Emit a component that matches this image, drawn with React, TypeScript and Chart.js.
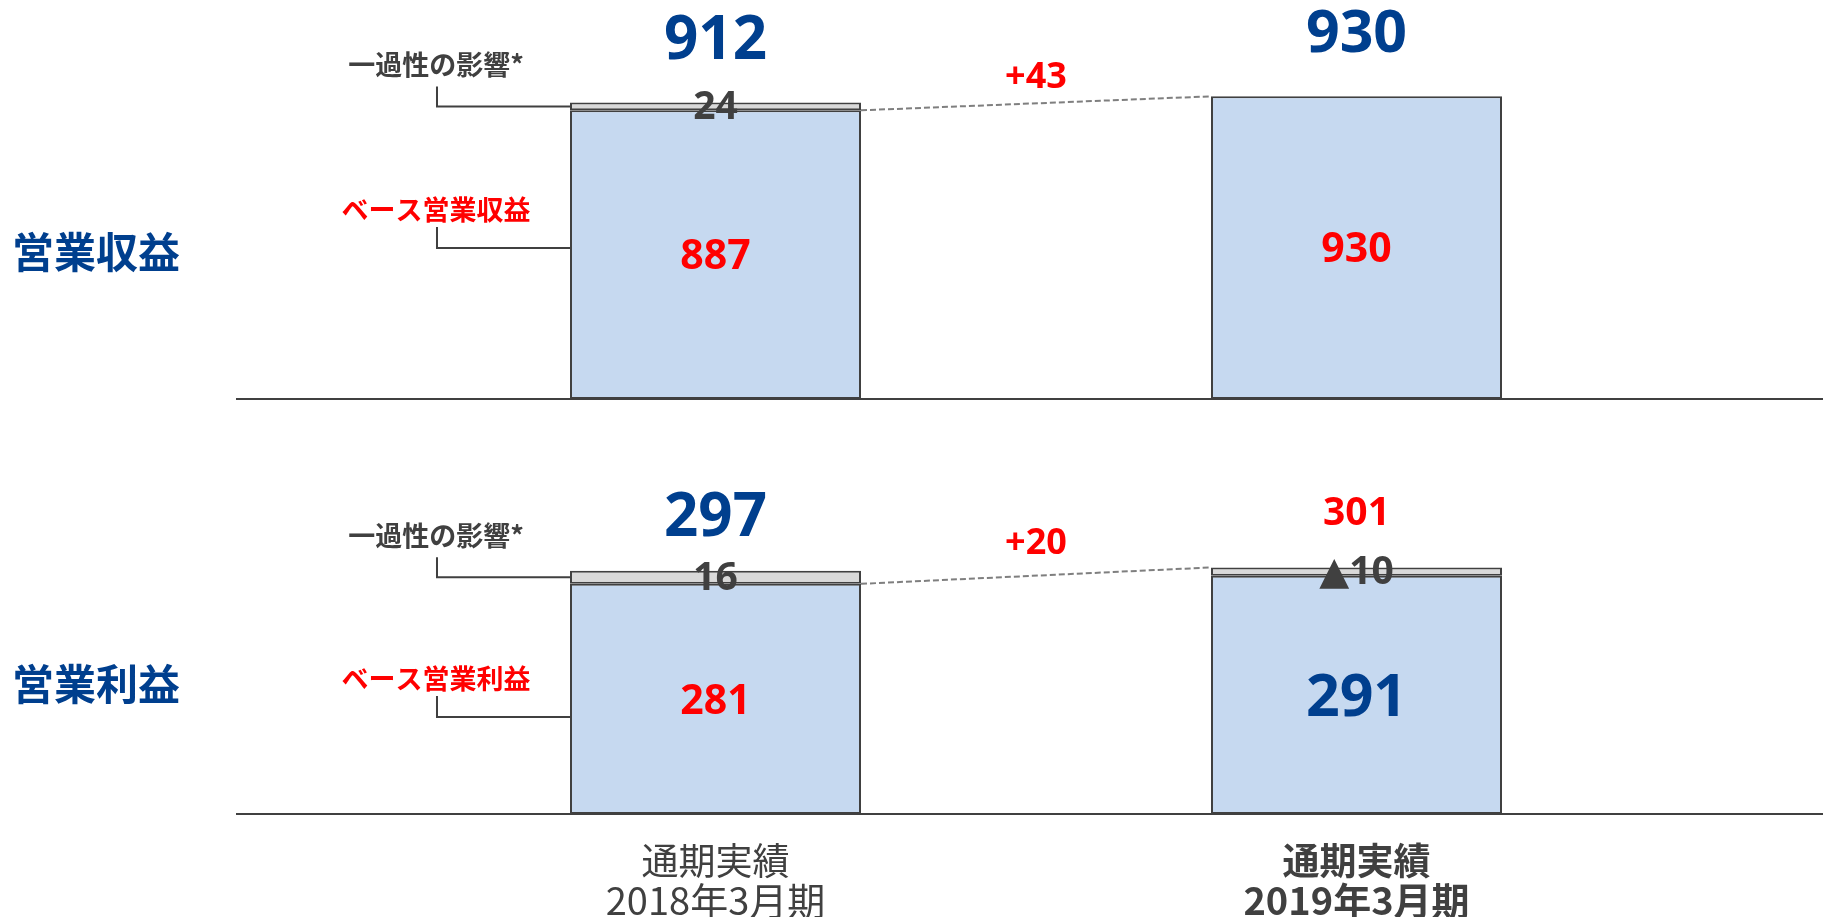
import React, { useEffect, useRef } from "react";
import { Chart, registerables } from "chart.js";

Chart.register(...registerables);

// ---- data ----
const periods = ["2018年3月期", "2019年3月期"];
const periodPrefix = "通期実績";

const revenueBase = [887, 930];
const revenueOneTime: (number | null)[] = [24, null];
const revenueTotalLabels = ["912", "930"];
const revenueBaseLabels = ["887", "930"];
const revenueOneTimeLabels = ["24", ""];
const revenueDelta = "+43";

const profitBase = [281, 291];
const profitOneTime: (number | null)[] = [16, 10];
const profitTotalLabels = ["297", "301"];
const profitBaseLabels = ["281", "291"];
const profitOneTimeLabels = ["16", "▲10"];
const profitDelta = "+20";

// ---- styles ----
const BLUE = "#003F8E";
const RED = "#FF0000";
const DARK = "#404040";
const NUM_FONT = "'Open Sans', 'DejaVu Sans', sans-serif";
const JP_FONT = "'Noto Sans CJK JP', sans-serif";

type Panel = {
  title: string;
  baseName: string;
  oneTimeName: string;
  base: number[];
  oneTime: (number | null)[];
  totalLabels: string[];
  baseLabels: string[];
  oneTimeLabels: string[];
  delta: string;
  yMax: number;
  height: number;
  bottomPad: number;
  totalOffset: number;
  deltaOffset: number;
  baseConnFrac: number;
  titleOffset: number;
  totalStyle: { color: string; size: number }[];
  baseStyle: { color: string; size: number }[];
  showCategories: boolean;
};

const panels: Panel[] = [
  {
    title: "営業収益",
    baseName: "ベース営業収益",
    oneTimeName: "一過性の影響*",
    base: revenueBase,
    oneTime: revenueOneTime,
    totalLabels: revenueTotalLabels,
    baseLabels: revenueBaseLabels,
    oneTimeLabels: revenueOneTimeLabels,
    delta: revenueDelta,
    yMax: 1226,
    height: 420,
    bottomPad: 21,
    totalOffset: 65,
    deltaOffset: 28,
    baseConnFrac: 0.477,
    titleOffset: 147,
    totalStyle: [
      { color: BLUE, size: 60 },
      { color: BLUE, size: 59 },
    ],
    baseStyle: [
      { color: RED, size: 41 },
      { color: RED, size: 41 },
    ],
    showCategories: false,
  },
  {
    title: "営業利益",
    baseName: "ベース営業利益",
    oneTimeName: "一過性の影響*",
    base: profitBase,
    oneTime: profitOneTime,
    totalLabels: profitTotalLabels,
    baseLabels: profitBaseLabels,
    oneTimeLabels: profitOneTimeLabels,
    delta: profitDelta,
    yMax: 481,
    height: 497,
    bottomPad: 103,
    totalOffset: 56,
    deltaOffset: 34,
    baseConnFrac: 0.579,
    titleOffset: 130,
    totalStyle: [
      { color: BLUE, size: 60 },
      { color: RED, size: 39 },
    ],
    baseStyle: [
      { color: RED, size: 41 },
      { color: BLUE, size: 59 },
    ],
    showCategories: true,
  },
];

function drawText(
  ctx: CanvasRenderingContext2D,
  s: string,
  x: number,
  cy: number,
  size: number,
  color: string,
  opts: { bold?: boolean; jp?: boolean; align?: CanvasTextAlign } = {}
) {
  const bold = opts.bold !== false;
  const family = opts.jp ? JP_FONT : NUM_FONT;
  ctx.save();
  ctx.font = `${bold ? "bold " : ""}${size}px ${family}`;
  ctx.fillStyle = color;
  ctx.textAlign = opts.align || "center";
  ctx.textBaseline = "alphabetic";
  const shift = opts.jp ? 0.38 * size : 0.357 * size;
  ctx.fillText(s, x, cy + shift);
  ctx.restore();
}

function makePlugin(p: Panel) {
  return {
    id: "annot",
    beforeDatasetsDraw(chart: any) {
      const ctx: CanvasRenderingContext2D = chart.ctx;
      const y0 = chart.scales.y.getPixelForValue(0);
      ctx.save();
      ctx.strokeStyle = DARK;
      ctx.lineWidth = 2;
      ctx.beginPath();
      ctx.moveTo(236, y0);
      ctx.lineTo(chart.width, y0);
      ctx.stroke();
      ctx.restore();
    },
    afterDatasetsDraw(chart: any) {
      const ctx: CanvasRenderingContext2D = chart.ctx;
      const m0 = chart.getDatasetMeta(0).data;
      const m1 = chart.getDatasetMeta(1).data;
      const area = chart.chartArea;

      const topOf = (i: number) =>
        p.oneTime[i] != null ? m1[i].y : m0[i].y;

      for (let i = 0; i < p.base.length; i++) {
        const b = m0[i];
        const cx = b.x;
        const ts = p.totalStyle[i];
        drawText(ctx, p.totalLabels[i], cx, topOf(i) - p.totalOffset, ts.size, ts.color);
        const bs = p.baseStyle[i];
        drawText(ctx, p.baseLabels[i], cx, (b.y + b.base) / 2, bs.size, bs.color);
        if (p.oneTime[i] != null && p.oneTimeLabels[i]) {
          const g = m1[i];
          drawText(ctx, p.oneTimeLabels[i], cx, (g.y + g.base) / 2 - 1, 39, DARK);
        }
      }

      // dashed bridge
      const b0 = m0[0];
      const b1 = m0[1];
      const x1 = b0.x + b0.width / 2;
      const yA = b0.y;
      const x2 = b1.x - b1.width / 2;
      const yB = topOf(1);
      ctx.save();
      ctx.strokeStyle = "#7F7F7F";
      ctx.lineWidth = 2;
      ctx.setLineDash([6, 3]);
      ctx.beginPath();
      ctx.moveTo(x1, yA);
      ctx.lineTo(x2, yB);
      ctx.stroke();
      ctx.restore();
      drawText(ctx, p.delta, (x1 + x2) / 2, (yA + yB) / 2 - p.deltaOffset, 36, RED);

      // side callouts for first bar
      const left = b0.x - b0.width / 2;
      const lx = left - 134;
      ctx.save();
      ctx.strokeStyle = DARK;
      ctx.lineWidth = 2;
      const g0 = m1[0];
      const oy = (g0.y + g0.base) / 2;
      ctx.beginPath();
      ctx.moveTo(lx + 1, oy - 20);
      ctx.lineTo(lx + 1, oy);
      ctx.lineTo(left, oy);
      ctx.stroke();
      const by = b0.y + (b0.base - b0.y) * p.baseConnFrac;
      ctx.beginPath();
      ctx.moveTo(lx + 1, by - 21);
      ctx.lineTo(lx + 1, by);
      ctx.lineTo(left, by);
      ctx.stroke();
      ctx.restore();
      drawText(ctx, p.oneTimeName, lx, oy - 42, 27, DARK, { jp: true });
      drawText(ctx, p.baseName, lx, by - 38, 27, RED, { jp: true });

      // panel title
      drawText(ctx, p.title, 12, area.bottom - p.titleOffset, 42, BLUE, {
        jp: true,
        align: "left",
      });

      // category labels
      if (p.showCategories) {
        const xs = chart.scales.x;
        for (let i = 0; i < periods.length; i++) {
          const cx = xs.getPixelForValue(i);
          const bold = i === periods.length - 1;
          drawText(ctx, periodPrefix, cx, area.bottom + 47, 37, DARK, { jp: true, bold });
          drawText(ctx, periods[i], cx, area.bottom + 87, 38, DARK, { jp: true, bold });
        }
      }
    },
  };
}

function PanelChart({ p, top }: { p: Panel; top: number }) {
  const ref = useRef<HTMLCanvasElement>(null);
  useEffect(() => {
    if (!ref.current) return;
    const chart = new Chart(ref.current, {
      type: "bar",
      data: {
        labels: periods,
        datasets: [
          {
            data: p.base,
            backgroundColor: "#C6D9F0",
            borderColor: DARK,
            borderWidth: 2,
            borderSkipped: false,
            barPercentage: 0.454,
            categoryPercentage: 1,
          },
          {
            data: p.oneTime as any,
            backgroundColor: "#D9D9D9",
            borderColor: DARK,
            borderWidth: 2,
            borderSkipped: false,
            barPercentage: 0.454,
            categoryPercentage: 1,
          },
        ],
      },
      options: {
        responsive: false,
        animation: false,
        devicePixelRatio: 1,
        events: [],
        layout: { padding: { left: 395, right: 146, top: 0, bottom: p.bottomPad } },
        scales: {
          x: { stacked: true, display: false },
          y: { stacked: true, display: false, min: 0, max: p.yMax },
        },
        plugins: { legend: { display: false }, tooltip: { enabled: false } },
      },
      plugins: [makePlugin(p) as any],
    });
    return () => chart.destroy();
  }, [p]);
  return (
    <canvas
      ref={ref}
      width={1823}
      height={p.height}
      style={{ position: "absolute", left: 0, top, width: 1823, height: p.height, display: "block" }}
    />
  );
}

export default function App() {
  return (
    <div
      style={{
        position: "absolute",
        left: 0,
        top: 0,
        width: 1823,
        height: 917,
        background: "#fff",
        overflow: "hidden",
      }}
    >
      <PanelChart p={panels[0]} top={0} />
      <PanelChart p={panels[1]} top={420} />
    </div>
  );
}
